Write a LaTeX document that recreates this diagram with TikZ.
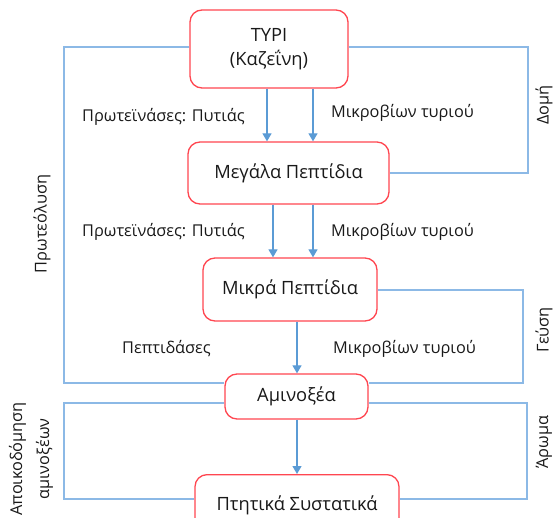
\documentclass[tikz,border=0pt]{standalone}
\usepackage{fontspec}
\setmainfont{Open Sans}
\usetikzlibrary{arrows.meta,calc}
\definecolor{boxred}{RGB}{255,70,80}
\definecolor{arrblue}{RGB}{91,155,213}
\definecolor{frameblue}{RGB}{140,185,230}
\definecolor{txt}{RGB}{25,25,25}
\tikzset{
  stage/.style={draw=boxred, line width=1.3pt, rounded corners=12pt, fill=white, text=txt, font=\fontsize{18.3}{22}\selectfont, align=center, inner sep=0pt},
  arr/.style={draw=arrblue, line width=1.3pt, -{Triangle[length=8pt,width=9pt]}},
  frame/.style={draw=frameblue, line width=1.1pt},
  lab/.style={text=txt, font=\fontsize{16.3}{19}\selectfont, inner sep=0pt},
  vlab/.style={lab, rotate=90}
}
\begin{document}
\begin{tikzpicture}[x=1pt,y=-1pt]
\useasboundingbox (0,0) rectangle (557,518);
\node[stage, minimum width=158pt, minimum height=78pt] (typi) at (269,49) {ΤΥΡΙ\\[2pt](Καζεΐνη)};
\node[stage, minimum width=201pt, minimum height=62pt] (mega) at (288.5,173) {Μεγάλα Πεπτίδια};
\node[stage, minimum width=174pt, minimum height=63pt] (mikra) at (290,289.5) {Μικρά Πεπτίδια};
\node[stage, minimum width=143pt, minimum height=45pt] (amino) at (296.5,396.5) {Αμινοξέα};
\node[stage, minimum width=204pt, minimum height=56pt, anchor=north] (ptit) at (297,474) {\raisebox{20pt}{}Πτητικά Συστατικά};
% frames
\draw[frame] ($(typi.west)+(0,-2)$) -| (64,383) -- ($(amino.west)+(0,-13.5)$);
\draw[frame] ($(typi.east)+(0,-2)$) -| (528,173) -- (mega.east);
\draw[frame] ($(mikra.east)+(0,0.5)$) -| (523,383) -- ($(amino.east)+(0,-13.5)$);
\draw[frame] ($(amino.west)+(0,6.5)$) -| (64,499) -- (ptit.west |- 0,499);
\draw[frame] ($(amino.east)+(0,6.5)$) -| (527,499) -- (ptit.east |- 0,499);
% arrows
\draw[arr] (typi.south -| 267,0) -- (mega.north -| 267,0);
\draw[arr] (typi.south -| 313,0) -- (mega.north -| 313,0);
\draw[arr] (mega.south -| 273,0) -- (mikra.north -| 273,0);
\draw[arr] (mega.south -| 313,0) -- (mikra.north -| 313,0);
\draw[arr] (mikra.south -| 297,0) -- (amino.north -| 297,0);
\draw[arr] (amino.south -| 297,0) -- (ptit.north -| 297,0);
% labels
\node[lab, anchor=west] (l1) at (82,117) {Πρωτεϊνάσες: Πυτιάς};
\node[lab, anchor=west] (l2) at (331,113) {Μικροβίων τυριού};
\node[lab, anchor=west] (l3) at (82,232) {Πρωτεϊνάσες: Πυτιάς};
\node[lab, anchor=west] (l4) at (331,232) {Μικροβίων τυριού};
\node[lab, anchor=west] (l5) at (122,349) {Πεπτιδάσες};
\node[lab, anchor=west] (l6) at (333,349) {Μικροβίων τυριού};
\node[vlab] (v1) at (42,224) {Πρωτεόλυση};
\node[vlab] (v2) at (544,105) {Δομή};
\node[vlab] (v3) at (544,330) {Γεύση};
\node[vlab] (v4) at (544,442) {Άρωμα};
\node[vlab, align=center, font=\fontsize{16.3}{27}\selectfont] (v5) at (31,459) {Αποικοδόμηση\\αμινοξέων};
\end{tikzpicture}
\end{document}
